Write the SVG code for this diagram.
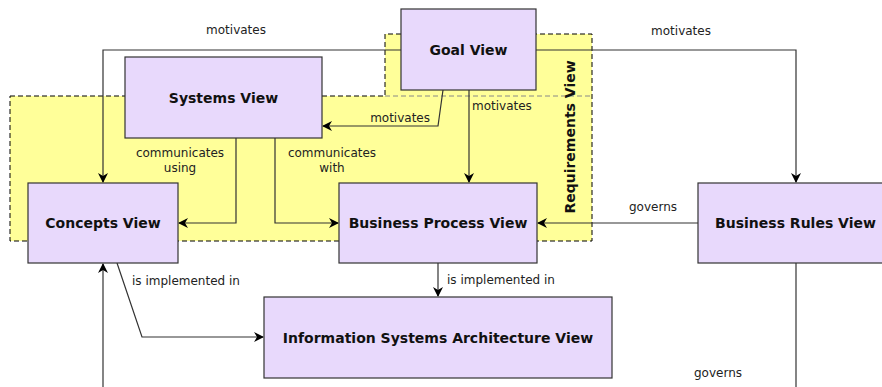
<svg xmlns="http://www.w3.org/2000/svg" width="882" height="387" viewBox="0 0 882 387">
<defs>
<marker id="arr" viewBox="0 0 10 10" refX="9" refY="5" markerWidth="10" markerHeight="10" markerUnits="userSpaceOnUse" orient="auto">
<path d="M0,0 L10,5 L0,10 L3,5 Z" fill="#000"/>
</marker>
<style>
.node rect{fill:#E8D9FC;stroke:#333;stroke-width:1.2}
.node text{font-family:"DejaVu Sans",sans-serif;font-weight:bold;font-size:14px;fill:#111;text-anchor:middle;dominant-baseline:central}
.lbl{font-family:"DejaVu Sans",sans-serif;font-size:12px;fill:#222}
.edge{fill:none;stroke:#333;stroke-width:1.2}
</style>
</defs>
<rect width="882" height="387" fill="#fff"/>
<g id="requirements-view">
<path d="M10,96 H385 V34 H592 V241 H10 Z" fill="#FFFF99" stroke="#000" stroke-width="1" stroke-dasharray="5,3"/>
<line x1="385" y1="96" x2="592" y2="96" stroke="#888" stroke-width="1" stroke-dasharray="5,3"/>
<text transform="translate(570,137) rotate(-90)" font-family="DejaVu Sans,sans-serif" font-weight="bold" font-size="14" text-anchor="middle" dominant-baseline="central" fill="#111">Requirements View</text>
</g>
<g id="connectors">
<path class="edge" d="M401,50 H103 V182" marker-end="url(#arr)"/>
<text class="lbl" x="236" y="34" text-anchor="middle">motivates</text>
<path class="edge" d="M536,50 H796 V182" marker-end="url(#arr)"/>
<text class="lbl" x="681" y="35" text-anchor="middle">motivates</text>
<path class="edge" d="M443,90 L438,126 H323" marker-end="url(#arr)"/>
<text class="lbl" x="430" y="122" text-anchor="end">motivates</text>
<path class="edge" d="M469,90 V182" marker-end="url(#arr)"/>
<text class="lbl" x="472" y="110">motivates</text>
<path class="edge" d="M236,138 V223 H179" marker-end="url(#arr)"/>
<text class="lbl" x="180" y="157" text-anchor="middle">communicates</text>
<text class="lbl" x="180" y="172" text-anchor="middle">using</text>
<path class="edge" d="M275,138 V223 H338" marker-end="url(#arr)"/>
<text class="lbl" x="332" y="157" text-anchor="middle">communicates</text>
<text class="lbl" x="332" y="172" text-anchor="middle">with</text>
<path class="edge" d="M698,223 H538" marker-end="url(#arr)"/>
<text class="lbl" x="653" y="211" text-anchor="middle">governs</text>
<path class="edge" d="M117,263 L142,337 H263" marker-end="url(#arr)"/>
<text class="lbl" x="132" y="285">is implemented in</text>
<path class="edge" d="M438,263 V296" marker-end="url(#arr)"/>
<text class="lbl" x="447" y="284">is implemented in</text>
<path class="edge" d="M103,387 V264" marker-end="url(#arr)"/>
<path class="edge" d="M796,263 V387"/>
<text class="lbl" x="718" y="377" text-anchor="middle">governs</text>
</g>
<g id="goal-view" class="node"><rect x="401" y="9" width="135" height="81"/><text x="468.5" y="49.5">Goal View</text></g>
<g id="systems-view" class="node"><rect x="125" y="57" width="197" height="81"/><text x="223.5" y="97.5">Systems View</text></g>
<g id="concepts-view" class="node"><rect x="28" y="183" width="150" height="80"/><text x="103" y="223">Concepts View</text></g>
<g id="business-process-view" class="node"><rect x="339" y="183" width="198" height="80"/><text x="438" y="223">Business Process View</text></g>
<g id="business-rules-view" class="node"><rect x="698" y="183" width="195" height="80"/><text x="795.5" y="223">Business Rules View</text></g>
<g id="information-systems-architecture-view" class="node"><rect x="264" y="297" width="348" height="81"/><text x="438" y="337.5">Information Systems Architecture View</text></g>
</svg>
